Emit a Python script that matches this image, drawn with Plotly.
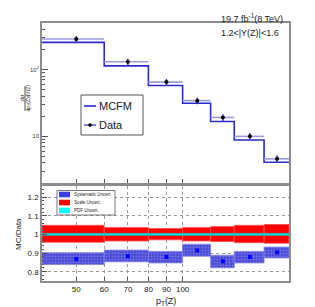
import plotly.graph_objects as go
from plotly.subplots import make_subplots

# ---- data ----
bin_edges = [40, 60, 80, 100, 120, 140, 170, 200]
bin_centers = [50, 70, 90, 110, 130, 155, 185]
data_xsec = [288, 131, 65, 34.3, 19.2, 10.0, 4.6]
data_err = [30, 14, 7.5, 4.0, 2.3, 1.2, 0.6]
mcfm_xsec = [256, 114, 57.8, 31.3, 16.7, 8.8, 4.1]
ratio = [0.868, 0.883, 0.879, 0.914, 0.856, 0.879, 0.904]
syst_lo = [0.839, 0.853, 0.847, 0.883, 0.821, 0.847, 0.874]
syst_hi = [0.902, 0.916, 0.909, 0.947, 0.888, 0.909, 0.932]
scale_lo = [0.958, 0.965, 0.971, 0.965, 0.962, 0.956, 0.953]
scale_hi = [1.049, 1.037, 1.032, 1.037, 1.042, 1.049, 1.053]
pdf_lo = [0.994, 0.994, 0.994, 0.994, 0.994, 0.994, 0.994]
pdf_hi = [1.006, 1.006, 1.006, 1.006, 1.006, 1.006, 1.006]
x_ticks = [50, 60, 70, 80, 90, 100]
ratio_ticks = [0.8, 0.9, 1.0, 1.1, 1.2]
ratio_ticklabels = ["0.8", "0.9", "1", "1.1", "1.2"]

W, H = 315, 307
ML, MR, MT, MB = 34, 34, 15, 34
FONT = "Liberation Sans, Arial, sans-serif"


def band_polys(lo, hi):
    xs, ys = [], []
    for i in range(len(lo)):
        x0, x1 = bin_edges[i], bin_edges[i + 1]
        xs += [x0, x1, x1, x0, x0, None]
        ys += [lo[i], lo[i], hi[i], hi[i], lo[i], None]
    return xs, ys


fig = make_subplots(rows=2, cols=1, shared_xaxes=True, vertical_spacing=0.0)

# ---- top panel ----
step_x = list(bin_edges)
step_y = list(mcfm_xsec) + [mcfm_xsec[-1]]
fig.add_trace(go.Scatter(x=step_x, y=step_y, mode="lines", line=dict(color="#2b2bc8", width=1.6, shape="hv"),
                         name="MCFM", showlegend=False), row=1, col=1)
fig.add_trace(go.Scatter(
    x=bin_centers, y=data_xsec, mode="markers", name="Data", showlegend=False,
    marker=dict(color="black", size=4),
    error_x=dict(type="data", symmetric=False,
                 array=[bin_edges[i + 1] - bin_centers[i] for i in range(len(bin_centers))],
                 arrayminus=[bin_centers[i] - bin_edges[i] for i in range(len(bin_centers))],
                 color="#9a9ae0", thickness=1.6, width=0),
    error_y=dict(type="data", array=data_err, color="#2b2bc8", thickness=1.3, width=0),
), row=1, col=1)

# ---- bottom panel ----
xs, ys = band_polys(scale_lo, scale_hi)
fig.add_trace(go.Scatter(x=xs, y=ys, mode="lines", fill="toself", fillcolor="#ff0000",
                         line=dict(width=0.8, color="#ff5050"), showlegend=False), row=2, col=1)
xs, ys = band_polys(pdf_lo, pdf_hi)
fig.add_trace(go.Scatter(x=xs, y=ys, mode="lines", fill="toself", fillcolor="#00e5e5",
                         line=dict(width=0.5, color="#3aa0a0"), showlegend=False), row=2, col=1)
xs, ys = band_polys(syst_lo, syst_hi)
fig.add_trace(go.Scatter(x=xs, y=ys, mode="lines", fill="toself", fillcolor="#5050d8",
                         fillpattern=dict(shape=".", fgcolor="#9d9df0", bgcolor="#4a4ad6", size=3, solidity=0.3),
                         line=dict(width=0.8, color="#8080e8"), showlegend=False), row=2, col=1)
fig.add_trace(go.Scatter(x=bin_centers, y=ratio, mode="markers",
                         marker=dict(color="#0000ff", size=4, symbol="square"), showlegend=False), row=2, col=1)

# ---- axes ----
ax_common = dict(type="log", range=[1.60206, 2.30103], showline=True, mirror=True, linecolor="#8c8c8c",
                 linewidth=1.5, ticks="inside", ticklen=4, tickcolor="#555", tickvals=x_ticks,
                 tickfont=dict(size=8, family=FONT, color="#222"))
fig.update_xaxes(**ax_common, showticklabels=False, showgrid=False, row=1, col=1)
fig.update_xaxes(**ax_common, showticklabels=True, showgrid=True, gridcolor="#9a9a9a", griddash="dot",
                 gridwidth=0.8, ticktext=[str(v) for v in x_ticks], tickmode="array", tickangle=0,
                 ticklabelstandoff=0, row=2, col=1)
fig.update_yaxes(type="log", range=[0.30103, 2.69897], showline=True, mirror=True, linecolor="#8c8c8c",
                 linewidth=1.5, ticks="inside", ticklen=6, tickcolor="#555", tickmode="array",
                 tickvals=[10, 100], ticktext=["10", "10<sup>2</sup>"], showgrid=False,
                 tickfont=dict(size=6, family=FONT, color="#333"),
                 minor=dict(ticks="inside", ticklen=3, tickcolor="#555", tickmode="array",
                            tickvals=[2, 3, 4, 5, 6, 7, 8, 9, 20, 30, 40, 50, 60, 70, 80, 90, 200, 300, 400, 500]),
                 row=1, col=1)
fig.update_yaxes(range=[0.75, 1.26], showline=True, mirror=True, linecolor="#8c8c8c", linewidth=1.5,
                 ticks="inside", ticklen=5, tickcolor="#555", tickmode="array", tickvals=ratio_ticks,
                 ticktext=ratio_ticklabels, showgrid=True, gridcolor="#9a9a9a", griddash="dot", gridwidth=0.8,
                 zeroline=False, tickfont=dict(size=8, family=FONT, color="#222"),
                 minor=dict(ticks="inside", ticklen=2.5, tickcolor="#555", dtick=0.02, showgrid=False),
                 row=2, col=1)

PH = H - MT - MB
fig.update_layout(
    xaxis=dict(domain=[0, 1]),
    yaxis=dict(domain=[(H - MB - 175) / PH, 1]),
    yaxis2=dict(domain=[0, (H - MB - 178) / PH]),
)


def px(xp):
    return (xp - ML) / (W - ML - MR)


def py(yp):
    return (H - MB - yp) / PH


annotations = []
shapes = []


def text(xp, yp, s, size, xanchor="center", textangle=0, color="#222"):
    annotations.append(dict(x=px(xp), y=py(yp), xref="paper", yref="paper", text=s, showarrow=False,
                            xanchor=xanchor, yanchor="middle", textangle=textangle,
                            font=dict(size=size, family=FONT, color=color)))


# top-right labels
text(277, 10, "19.7 fb<sup>-1</sup>(8 TeV)", 9, xanchor="right")
text(273, 25, "1.2<|Y(Z)|<1.6", 9, xanchor="right")
# axis titles
text(158, 293, "p<sub>T</sub>(Z)", 9)
text(10, 226, "MC/Data", 8, textangle=-90)
text(13.5, 90, "dσ", 6, textangle=-90)
text(20.5, 90, "dp<sub>T</sub>(Z)dY(Z)", 5, textangle=-90)
shapes.append(dict(type="line", xref="paper", yref="paper", x0=px(17), x1=px(17), y0=py(78), y1=py(103),
                   line=dict(color="#222", width=0.8)))

# top legend
shapes.append(dict(type="rect", xref="paper", yref="paper", x0=px(73), x1=px(135), y0=py(87), y1=py(127),
                   fillcolor="white", line=dict(color="#555", width=1)))
shapes.append(dict(type="line", xref="paper", yref="paper", x0=px(76), x1=px(88), y0=py(98), y1=py(98),
                   line=dict(color="#2b2bc8", width=1.6)))
text(89, 98, "MCFM", 11, xanchor="left")
shapes.append(dict(type="line", xref="paper", yref="paper", x0=px(76), x1=px(88), y0=py(117), y1=py(117),
                   line=dict(color="#2b2bc8", width=1.2)))
shapes.append(dict(type="circle", xref="paper", yref="paper", x0=px(80.5), x1=px(83.5), y0=py(115.5),
                   y1=py(118.5), fillcolor="black", line=dict(color="black", width=0.5)))
text(89, 117, "Data", 11, xanchor="left")

# bottom legend
shapes.append(dict(type="rect", xref="paper", yref="paper", x0=px(49), x1=px(107), y0=py(182.5), y1=py(207),
                   fillcolor="white", line=dict(color="#555", width=0.8)))
leg_items = [("#3c3ce0", "Systematic Uncert.", 186.5), ("#ff0000", "Scale Uncert.", 194.5),
             ("#00ffff", "PDF Uncert.", 202.5)]
for col, lab, yy in leg_items:
    shapes.append(dict(type="rect", xref="paper", yref="paper", x0=px(51), x1=px(62), y0=py(yy - 2.8),
                       y1=py(yy + 2.8), fillcolor=col, line=dict(width=0)))
    text(64, yy, lab, 4.5, xanchor="left")

fig.update_layout(
    width=W, height=H, margin=dict(l=ML, r=MR, t=MT, b=MB),
    paper_bgcolor="white", plot_bgcolor="white", showlegend=False,
    annotations=annotations, shapes=shapes,
    font=dict(family=FONT),
)

fig.write_html("out.html")
